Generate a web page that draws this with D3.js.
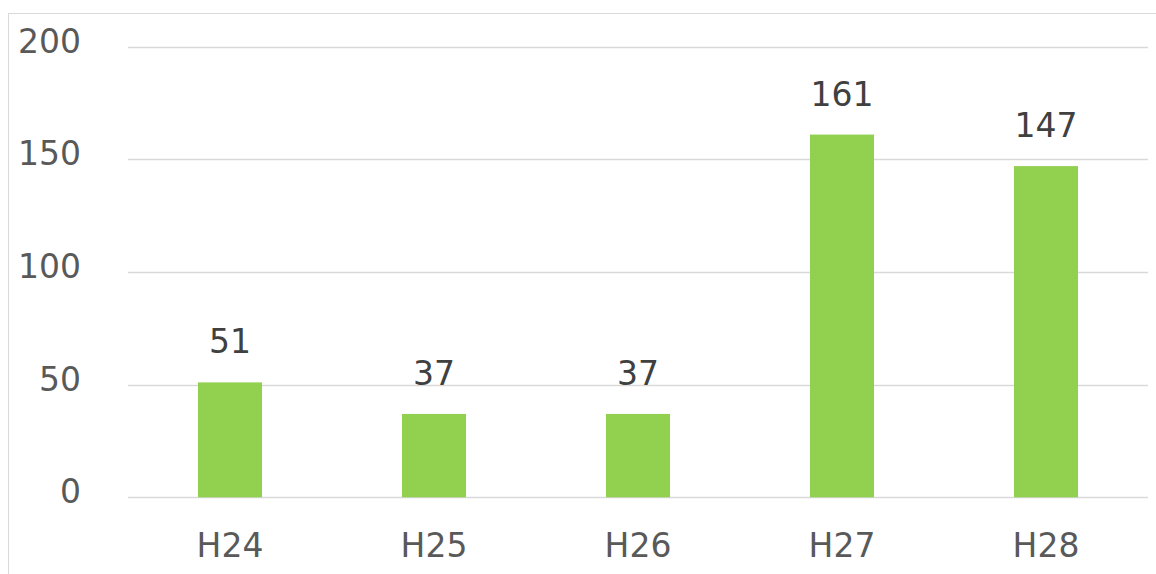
<!DOCTYPE html>
<html><head><meta charset="utf-8">
<script src="https://cdn.jsdelivr.net/npm/d3@7"></script>
<style>body{margin:0;background:#fff;}svg{display:block;}</style>
</head><body>
<svg id="c" width="1156" height="574"></svg>
<script>
const categories = ["H24","H25","H26","H27","H28"];
const values = [51,37,37,161,147];
const yTicks = [0,50,100,150,200];

const svg = d3.select("#c");
const font = "Verdana, 'DejaVu Sans', sans-serif";
const fs = 33;
svg.append("rect").attr("x",8.5).attr("y",13.5).attr("width",1200).attr("height",700)
  .attr("fill","#fff").attr("stroke","#d9d9d9").attr("stroke-width",1);

const x = d3.scaleBand().domain(categories).range([128,1148]).paddingInner(0.686).paddingOuter(0.343);
const y = d3.scaleLinear().domain([0,200]).range([497.3,46.7]);

const g = svg.append("g");
g.selectAll("line.grid").data(yTicks).join("line")
  .attr("x1",128).attr("x2",1148).attr("y1",d=>Math.round(y(d))+0.5).attr("y2",d=>Math.round(y(d))+0.5)
  .attr("stroke","#d9d9d9").attr("stroke-width",1.5);

const yAxis = d3.axisLeft(y).tickValues(yTicks).tickSize(0).tickPadding(0);
const ya = svg.append("g").attr("transform","translate(81,-5)").call(yAxis);
ya.select(".domain").remove();
ya.selectAll("text").attr("font-family",font).attr("font-size",fs).attr("fill","#595959");

g.selectAll("rect.bar").data(values).join("rect")
  .attr("x",(d,i)=>x(categories[i])).attr("width",x.bandwidth())
  .attr("y",d=>y(d)).attr("height",d=>y(0)-y(d)).attr("fill","#92d050");

g.selectAll("text.lbl").data(values).join("text")
  .attr("x",(d,i)=>x(categories[i])+x.bandwidth()/2).attr("y",d=>y(d)-29)
  .attr("text-anchor","middle").attr("font-family",font).attr("font-size",fs).attr("fill","#404040")
  .text(d=>d);

const xAxis = d3.axisBottom(x).tickSize(0).tickPadding(0);
const xa = svg.append("g").attr("transform","translate(0,557)").call(xAxis);
xa.select(".domain").remove();
xa.selectAll("text").attr("font-family",font).attr("font-size",fs).attr("fill","#595959").attr("dy",0);
</script>
</body></html>
